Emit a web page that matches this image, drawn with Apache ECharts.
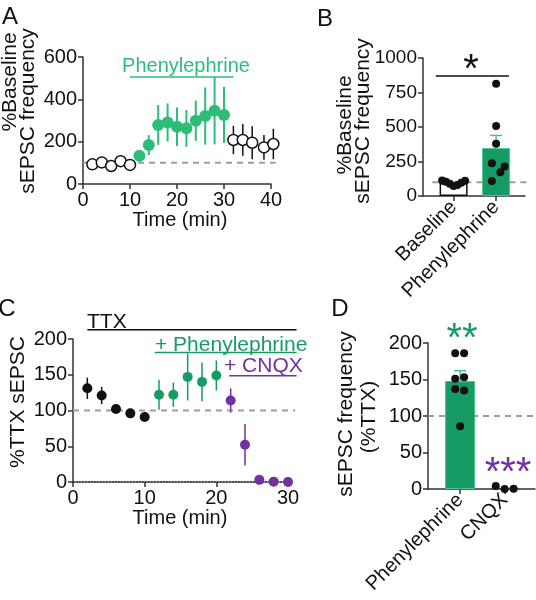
<!DOCTYPE html>
<html><head><meta charset="utf-8">
<script src="https://cdn.jsdelivr.net/npm/echarts@6/dist/echarts.min.js"></script>
<style>html,body{margin:0;padding:0;background:#fff}#c{width:536px;height:600px}</style>
</head><body><div id="c"></div>
<script>
// ---------- Panel A ----------
const aBaseX = [2, 4, 6, 8, 10];
const aBaseY = [93, 102, 85, 108, 90];
const aPheX = [12, 14, 16, 18, 20, 22, 24, 26, 28, 30];
const aPheY = [134, 184, 279, 291, 271, 263, 299, 321, 346, 326];
const aPheErr = [15, 47, 94, 90, 91, 87, 95, 135, 159, 132];
const aWashX = [32, 34, 36, 38.5, 40.5];
const aWashY = [208, 208, 195, 173, 189];
const aWashErr = [67, 75, 78, 58, 72];
// ---------- Panel B ----------
const bCats = ['Baseline', 'Phenylephrine'];
const bMeans = [95, 347];
const bSem = [0, 92];
const bBasePts = [112, 104, 88, 72, 80, 96, 110];
const bBaseJitter = [-0.27, -0.18, -0.09, 0, 0.09, 0.18, 0.27];
const bPhePts = [813, 508, 378, 237, 213, 172, 109];
const bPheJitter = [0, 0, 0, -0.1, 0.2, 0.1, -0.1];
// ---------- Panel C ----------
const cTtxX = [2, 4, 6, 8, 10];
const cTtxY = [131, 121, 102, 96, 91];
const cTtxErr = [15, 12, 3, 3, 3];
const cPheX = [12, 14, 16, 18, 20];
const cPheY = [122, 122, 147, 140, 149];
const cPheErr = [21, 17, 33, 27, 21];
const cCnqxX = [22, 24, 26, 28, 30];
const cCnqxY = [114, 52, 3, 0.5, 0];
const cCnqxErr = [17, 29, 1, 0, 0];
// ---------- Panel D ----------
const dCats = ['Phenylephrine', 'CNQX'];
const dMeans = [148, 1.5];
const dSem = [14, 1];
const dPhePts = [186, 186, 151, 153, 137, 135, 86];
const dPheJitter = [-0.11, 0.09, -0.11, 0.09, -0.11, 0.09, 0];
const dCnqxPts = [4, 0, 0.5];
const dCnqxJitter = [-0.2, 0, 0.2];

const FONT = "'Liberation Sans', Arial, sans-serif";
const GREEN_A = '#2dbd78', GREEN = '#179b65', PURPLE = '#7231a0', GRAY = '#9d9d9d', BLACK = '#111';
const AX = { color: '#333', width: 1.5 };
const plain = function (v) { return String(v); };

function xAx(grid, min, max, interval, extra) {
  return Object.assign({
    type: 'value', gridIndex: grid, min: min, max: max, interval: interval,
    axisLine: { show: true, onZero: false, lineStyle: AX },
    axisTick: { show: true, length: 5, lineStyle: AX },
    axisLabel: { color: BLACK, fontSize: 20, fontFamily: FONT, margin: 6, formatter: plain },
    splitLine: { show: false }
  }, extra || {});
}
function yAx(grid, min, max, interval, fs) {
  return {
    type: 'value', gridIndex: grid, min: min, max: max, interval: interval,
    axisLine: { show: true, onZero: false, lineStyle: AX },
    axisTick: { show: true, length: 5, lineStyle: AX },
    axisLabel: { color: BLACK, fontSize: fs || 20, fontFamily: FONT, margin: 6, formatter: plain },
    splitLine: { show: false }
  };
}
function hLine(i, x1, x2, y, color, width, dash) {
  return {
    type: 'custom', xAxisIndex: i, yAxisIndex: i, clip: false, silent: true, z: 1,
    data: [[x1, x2, y]],
    renderItem: function (p, api) {
      const a = api.coord([api.value(0), api.value(2)]);
      const b = api.coord([api.value(1), api.value(2)]);
      return { type: 'line', shape: { x1: a[0], y1: a[1], x2: b[0], y2: b[1] },
        style: { stroke: color, lineWidth: width, lineDash: dash || null } };
    }
  };
}
function errSeries(i, xs, ys, es, color, lw, mode) {
  return {
    type: 'custom', xAxisIndex: i, yAxisIndex: i, clip: false, silent: true, z: 2,
    data: xs.map(function (x, k) { return [x, ys[k], es[k]]; }),
    renderItem: function (p, api) {
      const x = api.value(0), y = api.value(1), e = api.value(2);
      const t = api.coord([x, y + e]);
      const b = api.coord([x, mode === 'up' ? y : y - e]);
      const ch = [{ type: 'line', shape: { x1: t[0], y1: t[1], x2: b[0], y2: b[1] }, style: { stroke: color, lineWidth: lw } }];
      if (mode === 'up') ch.push({ type: 'line', shape: { x1: t[0] - 6, y1: t[1], x2: t[0] + 6, y2: t[1] }, style: { stroke: color, lineWidth: lw } });
      return { type: 'group', children: ch };
    }
  };
}
function dots(i, xs, ys, size, fill, border, z) {
  return {
    type: 'scatter', xAxisIndex: i, yAxisIndex: i, clip: false, silent: true, symbol: 'circle',
    symbolSize: size, z: z || 3,
    data: xs.map(function (x, k) { return [x, ys[k]]; }),
    itemStyle: { color: fill, borderColor: border || fill, borderWidth: border ? 1.5 : 0, opacity: 1 }
  };
}
function catX(grid, cats) {
  return xAx(grid, 0.28, 2.68, null, {
    axisTick: { show: true, length: 5, lineStyle: AX, customValues: [1, 2] },
    axisLabel: { color: BLACK, fontSize: 20, fontFamily: FONT, margin: 8, rotate: 45,
      customValues: [1, 2], formatter: function (v) { return cats[Math.round(v) - 1] || ''; } }
  });
}
function txt(x, y, s, fs, color, rot, align) {
  return { type: 'text', x: x, y: y, rotation: rot || 0, z: 10,
    style: { text: s, fontSize: fs, fontFamily: FONT, fill: color || BLACK,
      textAlign: align || 'center', textVerticalAlign: 'middle' } };
}

const option = {
  animation: false,
  backgroundColor: '#fff',
  grid: [
    { left: 83, top: 57, width: 188, height: 127 },
    { left: 423, top: 58, width: 102, height: 138 },
    { left: 73, top: 339, width: 215, height: 143 },
    { left: 428, top: 343, width: 107, height: 146 }
  ],
  xAxis: [
    xAx(0, 0, 40, 10),
    catX(1, bCats),
    xAx(2, 0, 30, 10, { axisLine: { show: true, onZero: false, lineStyle: { color: BLACK, width: 1.5, type: 'dotted' } } }),
    catX(3, dCats)
  ],
  yAxis: [
    yAx(0, 0, 600, 200),
    yAx(1, 0, 1000, 250, 19),
    yAx(2, 0, 200, 50),
    yAx(3, 0, 200, 50)
  ],
  series: [
    // A
    hLine(0, 0, 41, 100, GRAY, 2, [6, 5]),
    hLine(0, 10, 32, 505, GREEN_A, 1.5),
    errSeries(0, aPheX, aPheY, aPheErr, GREEN_A, 2, 'sym'),
    errSeries(0, aWashX, aWashY, aWashErr, BLACK, 1.5, 'sym'),
    dots(0, aBaseX, aBaseY, 11, '#fff', BLACK),
    dots(0, aPheX, aPheY, 12, GREEN_A),
    dots(0, aWashX, aWashY, 11, '#fff', BLACK),
    // B
    { type: 'bar', xAxisIndex: 1, yAxisIndex: 1, barWidth: 28, silent: true, z: 1,
      data: [
        { value: [1, bMeans[0]], itemStyle: { color: '#fff', borderColor: BLACK, borderWidth: 1.5 } },
        { value: [2, bMeans[1]], itemStyle: { color: GREEN, borderColor: '#4cc08c', borderWidth: 1 } }
      ] },
    hLine(1, 0.5, 2.74, 100, GRAY, 2, [6, 5]),
    hLine(1, 0.58, 2.3, 870, BLACK, 1.5),
    errSeries(1, [2], [bMeans[1]], [bSem[1]], '#4cc08c', 1.5, 'up'),
    dots(1, bBaseJitter.map(function (j) { return 1 + j; }), bBasePts, 8, BLACK),
    dots(1, bPheJitter.map(function (j) { return 2 + j; }), bPhePts, 8, BLACK),
    // C
    hLine(2, 0, 31, 100, GRAY, 2, [6, 5]),
    hLine(2, 2, 31.2, 213, BLACK, 1.5),
    hLine(2, 11.4, 31.2, 181, GREEN, 1.5),
    hLine(2, 21.8, 31.2, 148.5, PURPLE, 1.5),
    errSeries(2, cTtxX, cTtxY, cTtxErr, BLACK, 1.5, 'sym'),
    errSeries(2, cPheX, cPheY, cPheErr, GREEN, 1.5, 'sym'),
    errSeries(2, cCnqxX, cCnqxY, cCnqxErr, PURPLE, 1.5, 'sym'),
    dots(2, cTtxX, cTtxY, 10, BLACK),
    dots(2, cPheX, cPheY, 10, GREEN),
    dots(2, cCnqxX, cCnqxY, 10, PURPLE),
    // D
    { type: 'bar', xAxisIndex: 3, yAxisIndex: 3, barWidth: 30, silent: true, z: 1,
      data: [
        { value: [1, dMeans[0]], itemStyle: { color: GREEN, borderColor: '#4cc08c', borderWidth: 1 } },
        { value: [2, dMeans[1]], itemStyle: { color: PURPLE, borderColor: PURPLE, borderWidth: 1 } }
      ] },
    hLine(3, 0.28, 2.68, 100, GRAY, 2, [6, 5]),
    errSeries(3, [1], [dMeans[0]], [dSem[0]], '#4cc08c', 1.5, 'up'),
    dots(3, dPheJitter.map(function (j) { return 1 + j; }), dPhePts, 8, BLACK),
    dots(3, dCnqxJitter.map(function (j) { return 2 + j; }), dCnqxPts, 8, BLACK)
  ],
  graphic: [
    txt(10, 17, 'A', 24),
    txt(325, 19, 'B', 24),
    txt(7, 309, 'C', 24),
    txt(340, 309, 'D', 24),
    // A texts
    txt(10, 82, '%Baseline', 21, BLACK, Math.PI / 2),
    txt(28, 111, 'sEPSC frequency', 21, BLACK, Math.PI / 2),
    txt(180, 220, 'Time (min)', 20),
    txt(186, 66, 'Phenylephrine', 20, GREEN_A),
    // B texts
    txt(345, 125, '%Baseline', 21, BLACK, Math.PI / 2),
    txt(363, 121, 'sEPSC frequency', 21, BLACK, Math.PI / 2),
    txt(471, 71, '*', 40),
    // C texts
    txt(18, 402, '%TTX sEPSC', 21, BLACK, Math.PI / 2),
    txt(180, 518, 'Time (min)', 20),
    txt(87, 322, 'TTX', 21, BLACK, 0, 'left'),
    txt(155, 345, '+ Phenylephrine', 21, GREEN, 0, 'left'),
    txt(224, 366, '+ CNQX', 21, PURPLE, 0, 'left'),
    // D texts
    txt(346, 414, 'sEPSC frequency', 21, BLACK, Math.PI / 2),
    txt(369, 417, '(%TTX)', 21, BLACK, Math.PI / 2),
    txt(462, 340, '**', 40, GREEN),
    txt(508, 474, '***', 40, PURPLE)
  ]
};
const chart = echarts.init(document.getElementById('c'), null, { renderer: 'canvas' });
chart.setOption(option);
</script>
</body></html>
